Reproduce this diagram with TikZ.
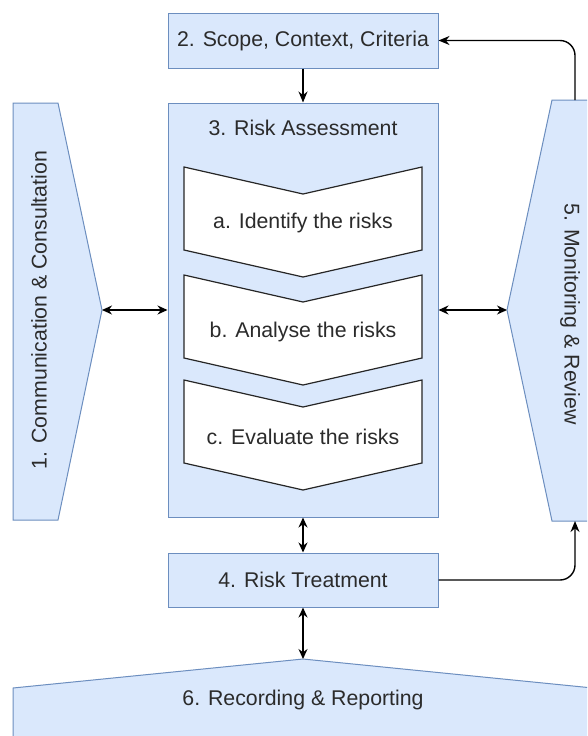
\documentclass[tikz,border=0pt]{standalone}
\usepackage{fontspec}
\setmainfont{Liberation Sans}
\usetikzlibrary{arrows.meta}
\definecolor{boxfill}{HTML}{DAE8FC}
\definecolor{boxline}{HTML}{6C8EBF}
\definecolor{txt}{HTML}{2B2B2B}
\begin{document}
\begin{tikzpicture}[x=1pt,y=-1pt,
  bluebox/.style={draw=boxline,fill=boxfill,line width=1pt,minimum width=270pt,inner sep=0pt,font=\fontsize{21.3}{25}\selectfont,text=txt},
  blueshape/.style={draw=boxline,fill=boxfill,line width=1pt,line join=miter},
  chev/.style={draw=black!85,fill=white,line width=1.2pt,line join=miter},
  conn/.style={line width=1.4pt,draw=black},
  lbl/.style={font=\fontsize{21.3}{25}\selectfont,text=txt,inner sep=0pt},
  tip/.style={-{Stealth[length=11pt,width=9pt]}},
  bitip/.style={{Stealth[length=10pt,width=9pt]}-{Stealth[length=10pt,width=9pt]}}
]
\useasboundingbox (0,0) rectangle (587,736);
\clip (0,0) rectangle (587,736);
\fill[white] (0,0) rectangle (587,736);

% 1. Communication & Consultation
\draw[blueshape] (13,103) -- (58,103) -- (102,310) -- (58,520) -- (13,520) -- cycle;
\coordinate (p1) at (102,310);
\node[lbl,rotate=90] (t1) at (39,310) {1. Communication \& Consultation};

% 5. Monitoring & Review
\draw[blueshape] (552,100) -- (598,100) -- (598,521) -- (552,521) -- (507,310) -- cycle;
\coordinate (p5) at (507,310);
\coordinate (m5top) at (575,100);
\coordinate (m5bot) at (575,521);
\node[lbl,rotate=-90] (t5) at (570,314) {5. Monitoring \& Review};

% 6. Recording & Reporting
\draw[blueshape] (13,750) -- (13,688) -- (303,659) -- (593,688) -- (593,750) -- cycle;
\coordinate (p6) at (303,659);
\node[lbl] (t6) at (303,700) {6. Recording \& Reporting};

% boxes
\node[bluebox,minimum height=55pt] (b2) at (303,40.5) {2. Scope, Context, Criteria};
\node[bluebox,minimum height=414pt] (b3) at (303,310) {};
\node[lbl] (t3) at (303,128) {3. Risk Assessment};
\node[bluebox,minimum height=54pt] (b4) at (303,580) {4. Risk Treatment};

% chevrons
\foreach \t/\ty/\name/\txt in {167/223/ca/a. Identify the risks,275/332/cb/b. Analyse the risks,380/437/cc/c. Evaluate the risks}{
  \draw[chev] (184,\t) -- (303,\t+27) -- (422,\t) -- (422,\t+83) -- (303,\t+110) -- (184,\t+83) -- cycle;
  \node[lbl] (\name) at (303,\ty) {\txt};
}

% connectors
\draw[conn,tip] (b2.south) -- (b3.north);
\draw[conn,bitip] (p1) -- (b3.west);
\draw[conn,bitip] (b3.east) -- (p5);
\draw[conn,bitip] (b3.south) -- (b4.north);
\draw[conn,bitip] (b4.south) -- (p6);
\draw[conn,tip,rounded corners=15pt] (m5top) -- (575,40.5) -- (b2.east);
\draw[conn,tip,rounded corners=15pt] (b4.east) -- (575,580) -- (m5bot);
\end{tikzpicture}
\end{document}
